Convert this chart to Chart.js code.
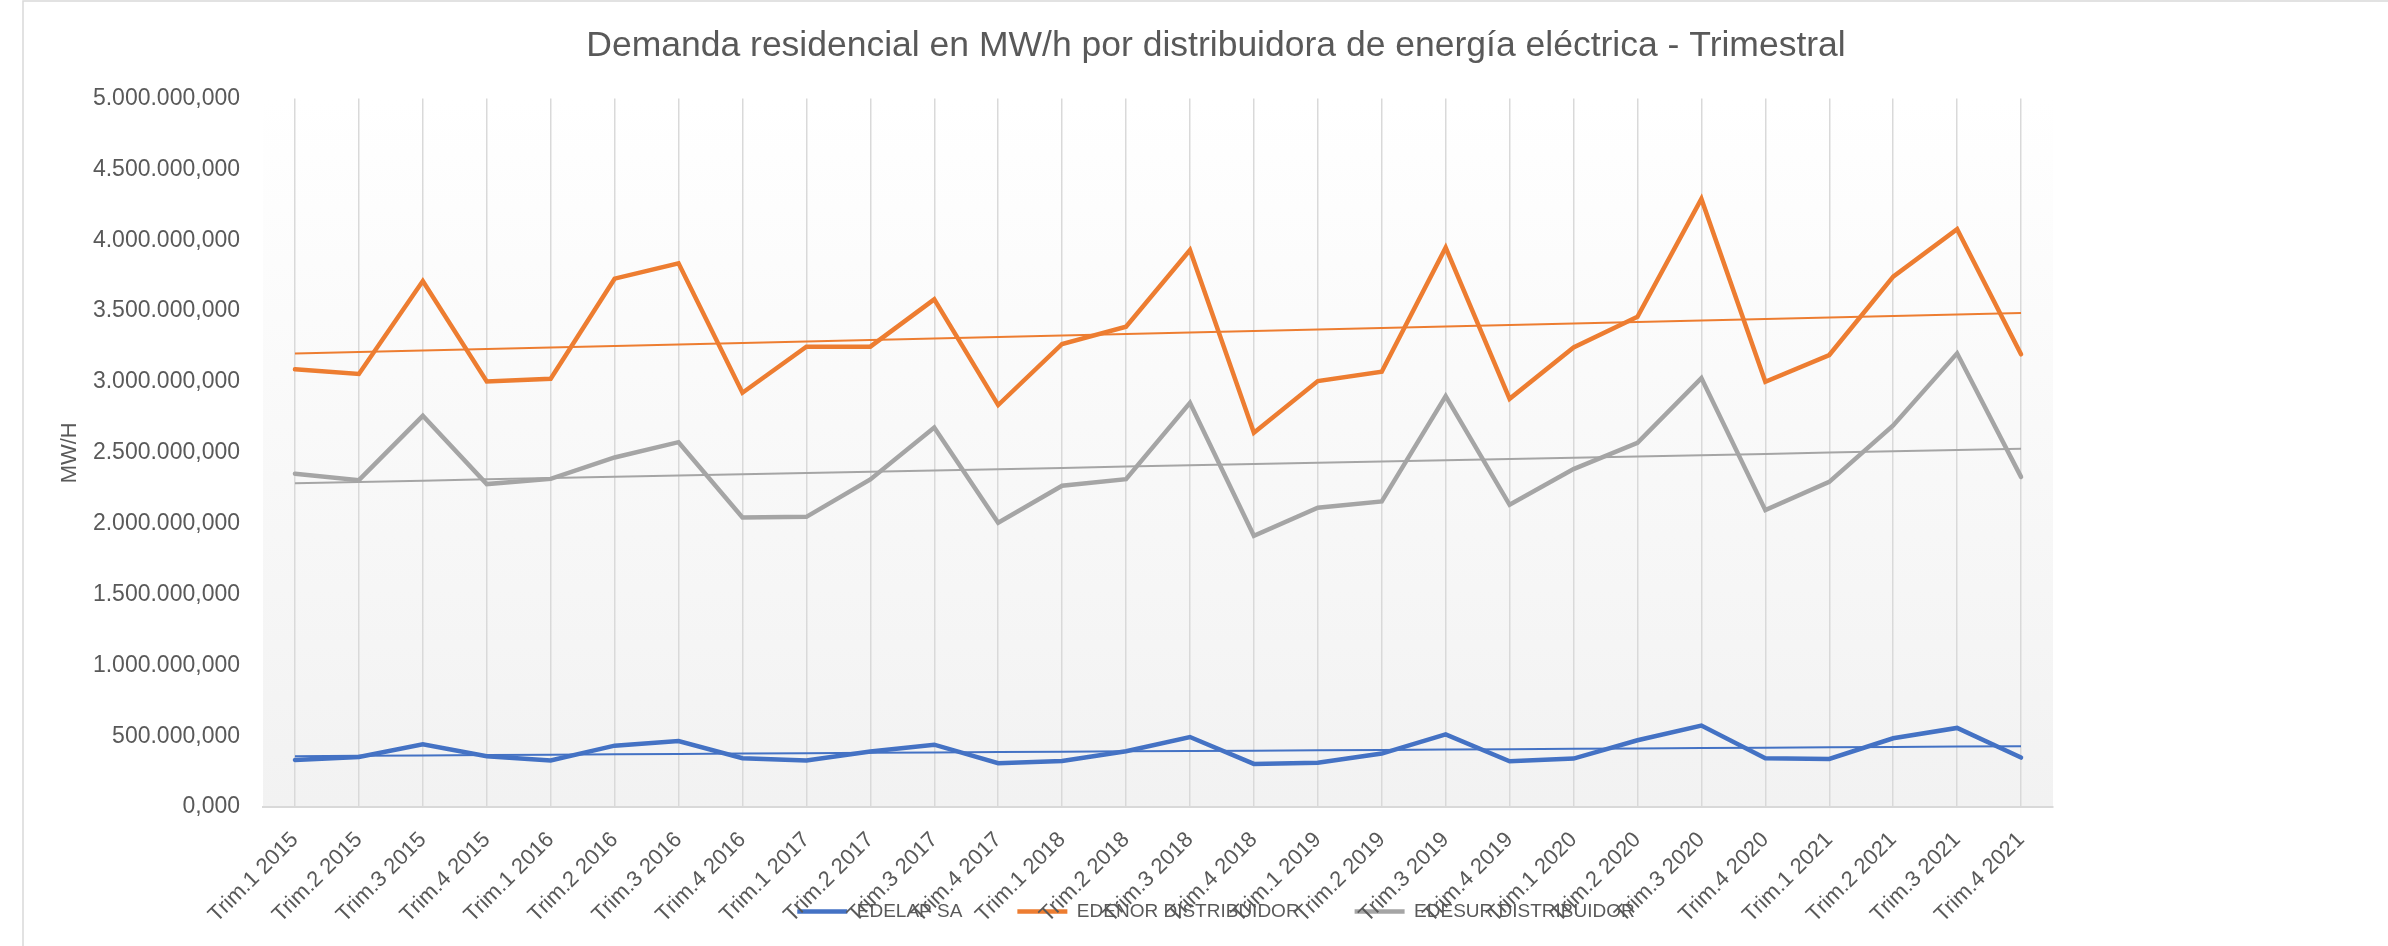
<!DOCTYPE html>
<html>
<head>
<meta charset="utf-8">
<title>Demanda residencial</title>
<script src="https://cdn.jsdelivr.net/npm/chart.js@4/dist/chart.umd.min.js"></script>
<style>
  body { margin: 0; background: #fff; }
  #caja { width: 2388px; height: 946px; }
</style>
</head>
<body>
<div id="caja"><canvas id="myChart"></canvas></div>
<script>
/// datos (MW/h) ///

const trimestres = [
  "Trim.1 2015", "Trim.2 2015", "Trim.3 2015", "Trim.4 2015",
  "Trim.1 2016", "Trim.2 2016", "Trim.3 2016", "Trim.4 2016",
  "Trim.1 2017", "Trim.2 2017", "Trim.3 2017", "Trim.4 2017",
  "Trim.1 2018", "Trim.2 2018", "Trim.3 2018", "Trim.4 2018",
  "Trim.1 2019", "Trim.2 2019", "Trim.3 2019", "Trim.4 2019",
  "Trim.1 2020", "Trim.2 2020", "Trim.3 2020", "Trim.4 2020",
  "Trim.1 2021", "Trim.2 2021", "Trim.3 2021", "Trim.4 2021"
];

const edelap = [
  332000, 353000, 443000, 358000, 328000, 433000, 466000,
  344000, 328000, 391000, 440000, 309000, 325000, 393000,
  494000, 304000, 313000, 377000, 513000, 323000, 342000,
  471000, 575000, 344000, 339000, 485000, 558000, 349000
];

const edenor = [
  3089000, 3056000, 3712000, 3004000, 3023000, 3729000, 3837000,
  2924000, 3249000, 3249000, 3583000, 2837000, 3268000, 3390000,
  3931000, 2641000, 3006000, 3072000, 3948000, 2881000, 3244000,
  3460000, 4292000, 3001000, 3190000, 3743000, 4078000, 3195000
];

const edesur = [
  2352000, 2307000, 2761000, 2279000, 2316000, 2467000, 2575000,
  2044000, 2048000, 2312000, 2679000, 2006000, 2267000, 2314000,
  2853000, 1914000, 2112000, 2157000, 2900000, 2133000, 2385000,
  2571000, 3027000, 2095000, 2295000, 2693000, 3202000, 2330000
];

const ticksY = [0, 500000, 1000000, 1500000, 2000000, 2500000,
  3000000, 3500000, 4000000, 4500000, 5000000];

//////////////

const azul = "#4472C4";
const naranja = "#ED7D31";
const gris = "#A5A5A5";

// linea de tendencia (minimos cuadrados, como la de excel)
function tendencia(valores) {
  const n = valores.length;
  let sx = 0, sy = 0, sxy = 0, sxx = 0;
  valores.forEach((v, i) => { sx += i; sy += v; sxy += i * v; sxx += i * i; });
  const m = (n * sxy - sx * sy) / (n * sxx - sx * sx);
  const b = (sy - m * sx) / n;
  return valores.map((v, i) => b + m * i);
}

// 5000000 -> "5.000.000,000"
function formato(valor) {
  const entero = Math.round(valor).toString().replace(/\B(?=(\d{3})+(?!\d))/g, ".");
  return entero + ",000";
}

function serie(nombre, datos, color) {
  return {
    label: nombre,
    data: datos,
    borderColor: color,
    backgroundColor: color,
    borderWidth: 4.5,
    borderCapStyle: "round",
    pointRadius: 0,
    tension: 0
  };
}

function linea(datos, color) {
  return {
    label: "tendencia",
    data: tendencia(datos),
    borderColor: color,
    borderWidth: 2,
    pointRadius: 0,
    tension: 0
  };
}

const fondo = {
  id: "fondo",
  beforeDraw(chart) {
    const { ctx, chartArea: a } = chart;
    ctx.save();
    ctx.fillStyle = "#ffffff";
    ctx.fillRect(0, 0, chart.width, chart.height);
    const g = ctx.createLinearGradient(0, a.top, 0, a.bottom);
    g.addColorStop(0, "#ffffff");
    g.addColorStop(1, "#f2f2f2");
    ctx.fillStyle = g;
    ctx.fillRect(a.left, a.top, a.right - a.left, a.bottom - a.top);
    ctx.strokeStyle = "#d9d9d9";
    ctx.lineWidth = 1.5;
    ctx.strokeRect(23, 1, chart.width, chart.height);
    ctx.restore();
  }
};

// las etiquetas del eje x se meten debajo de la leyenda, como en excel
const etiquetasLargas = {
  id: "etiquetasLargas",
  afterLayout(chart) {
    const s = chart.scales.x;
    s.bottom = chart.height;
    s.height = s.bottom - s.top;
  }
};

Chart.defaults.font.family = "'Liberation Sans', Arial, sans-serif";
Chart.defaults.color = "#595959";

const chartDOM = document.getElementById("myChart");

new Chart(chartDOM, {
  type: "line",
  data: {
    labels: trimestres,
    datasets: [
      serie("EDELAP SA", edelap, azul),
      serie("EDENOR DISTRIBUIDOR", edenor, naranja),
      serie("EDESUR DISTRIBUIDOR", edesur, gris),
      linea(edelap, azul),
      linea(edenor, naranja),
      linea(edesur, gris)
    ]
  },
  options: {
    responsive: true,
    maintainAspectRatio: false,
    animation: false,
    devicePixelRatio: 1,
    layout: { padding: { left: 44, right: 0, top: 0, bottom: 15 } },
    plugins: {
      title: {
        display: true,
        text: "Demanda residencial en MW/h por distribuidora de energía eléctrica - Trimestral",
        color: "#595959",
        font: { size: 35.5, weight: "normal" },
        padding: { top: 25, bottom: 31 }
      },
      legend: {
        position: "bottom",
        labels: {
          usePointStyle: true,
          pointStyle: "line",
          pointStyleWidth: 50,
          padding: 55,
          color: "#595959",
          font: { size: 19 },
          filter: (item) => item.datasetIndex < 3
        }
      },
      tooltip: { enabled: false }
    },
    scales: {
      x: {
        offset: true,
        grid: { display: true, color: "#d9d9d9", lineWidth: 1.5, drawTicks: false, offset: false },
        border: { display: true, color: "#d9d9d9", width: 2 },
        ticks: { autoSkip: false, minRotation: 45, maxRotation: 45, padding: 20, font: { size: 22 }, color: "#595959" },
        afterFit(scale) { scale.height = 40; }
      },
      y: {
        min: 0,
        max: 5000000,
        grid: { display: false, drawTicks: false },
        border: { display: false },
        title: { display: true, text: "MW/H", color: "#595959", font: { size: 22 }, padding: { top: 13, bottom: 0 } },
        ticks: { padding: 23, font: { size: 23 }, color: "#595959", callback: (v) => formato(v) },
        afterBuildTicks(scale) { scale.ticks = ticksY.map((v) => ({ value: v })); },
        afterFit(scale) { scale.width = 219; }
      },
      y2: {
        position: "right",
        grid: { display: false, drawTicks: false },
        border: { display: false },
        ticks: { display: false },
        afterFit(scale) { scale.width = 335; }
      }
    }
  },
  plugins: [fondo, etiquetasLargas]
});
</script>
</body>
</html>
